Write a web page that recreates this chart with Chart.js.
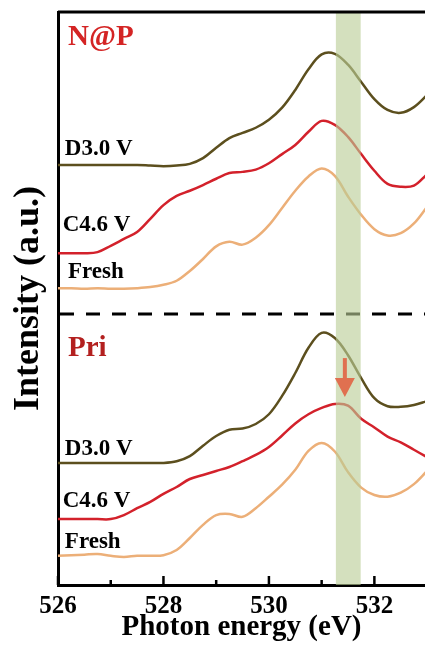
<!DOCTYPE html>
<html>
<head>
<meta charset="utf-8">
<script src="https://cdn.jsdelivr.net/npm/chart.js@4.4.0/dist/chart.umd.min.js"></script>
<style>
  html, body { margin: 0; padding: 0; background: #fff; }
  .chart-container { width: 425px; height: 650px; }
</style>
</head>
<body>
<div class="chart-container"><canvas id="xasChart"></canvas></div>
<script>
// photon energy grid (eV)
const energy = [526.00, 526.25, 526.50, 526.75, 527.00, 527.25, 527.50, 527.75, 528.00, 528.25,
                528.50, 528.75, 529.00, 529.25, 529.50, 529.75, 530.00, 530.25, 530.50, 530.75,
                531.00, 531.25, 531.50, 531.75, 532.00, 532.25, 532.50, 532.75, 533.00];

// N@P spectra (stacked, a.u.)
const napD30   = [73.3, 73.3, 73.3, 73.3, 73.3, 73.3, 73.3, 73.2, 73.1, 73.2,
                  73.5, 74.5, 76.3, 78.0, 78.9, 79.8, 81.2, 83.3, 86.4, 90.0,
                  92.6, 92.7, 90.8, 87.8, 84.8, 82.9, 82.4, 83.4, 85.5];
const napC46   = [57.9, 57.9, 57.9, 58.1, 59.2, 60.4, 61.6, 63.9, 66.3, 67.9,
                  68.8, 69.8, 70.9, 71.9, 72.1, 72.5, 73.6, 75.2, 76.8, 79.1,
                  81.0, 80.3, 78.2, 75.2, 72.3, 70.0, 69.5, 69.7, 71.7];
const napFresh = [51.8, 51.8, 51.7, 51.8, 51.7, 51.7, 51.8, 52.0, 52.4, 53.1,
                  54.8, 56.9, 59.1, 59.9, 59.4, 60.6, 62.8, 65.8, 68.8, 71.3,
                  72.7, 71.4, 67.8, 64.6, 62.1, 61.0, 61.4, 63.1, 66.0];

// Pri spectra (stacked, a.u.)
const priD30   = [21.3, 21.3, 21.3, 21.3, 21.3, 21.3, 21.3, 21.3, 21.3, 21.6,
                  22.5, 24.3, 26.0, 27.1, 27.3, 28.1, 29.8, 33.0, 37.0, 41.4,
                  44.0, 43.1, 40.1, 36.1, 32.6, 31.2, 31.1, 31.4, 32.1];
const priC46   = [11.5, 11.5, 11.5, 11.5, 11.5, 12.2, 13.4, 14.5, 15.9, 17.1,
                  18.5, 19.2, 19.9, 20.6, 21.6, 22.7, 24.1, 26.1, 28.2, 29.8,
                  30.9, 31.6, 31.3, 29.0, 27.5, 25.9, 24.9, 23.6, 22.3];
const priFresh = [5.1, 5.2, 5.3, 5.4, 5.1, 4.9, 5.1, 5.1, 5.2, 6.1,
                  8.2, 10.5, 12.2, 12.4, 11.9, 13.4, 15.4, 17.5, 20.1, 23.4,
                  24.8, 23.3, 19.7, 17.0, 15.7, 15.4, 16.1, 17.6, 19.9];

const xTicks = [526, 528, 530, 532];
const xMinorTicks = [527, 529, 531];
const bandRange = [531.27, 531.74];
const dividerLevel = 47.3;
const arrowEnergy = 531.44;
const arrowRange = [39.6, 32.8];

const panelNames = ["N@P", "Pri"];
const curveNames = ["D3.0 V", "C4.6 V", "Fresh"];

const SERIF = '"Liberation Serif", "Times New Roman", serif';

function makeDataSet(values, label, color) {
  return {
    label: label,
    data: energy.map((e, i) => ({ x: e, y: values[i] })),
    borderColor: color,
    borderWidth: 2.5,
    pointRadius: 0,
    tension: 0.35,
    fill: false
  };
}

function drawText(ctx, text, px, py, size, color) {
  ctx.font = `bold ${size}px ${SERIF}`;
  ctx.fillStyle = color;
  ctx.textAlign = "left";
  ctx.textBaseline = "alphabetic";
  ctx.fillText(text, px, py);
}

const decorations = {
  id: "decorations",
  afterDatasetsDraw(chart) {
    let ctx = chart.ctx;
    let area = chart.chartArea;
    let xs = chart.scales.x;
    let ys = chart.scales.y;
    ctx.save();

    // dashed line splitting the two panels
    let dy = ys.getPixelForValue(dividerLevel);
    ctx.strokeStyle = "#000";
    ctx.lineWidth = 3;
    ctx.setLineDash([14, 12]);
    ctx.beginPath();
    ctx.moveTo(area.left + 2, dy);
    ctx.lineTo(area.right, dy);
    ctx.stroke();
    ctx.setLineDash([]);

    // highlighted energy window
    let b0 = xs.getPixelForValue(bandRange[0]);
    let b1 = xs.getPixelForValue(bandRange[1]);
    ctx.fillStyle = "rgba(185, 205, 150, 0.62)";
    ctx.fillRect(b0, area.top + 1, b1 - b0, area.bottom - area.top - 1);

    // top frame
    ctx.strokeStyle = "#000";
    ctx.lineWidth = 3;
    ctx.beginPath();
    ctx.moveTo(area.left, area.top);
    ctx.lineTo(area.right, area.top);
    ctx.stroke();

    // inward ticks on the energy axis
    ctx.lineWidth = 2.5;
    xTicks.forEach(v => {
      let px = xs.getPixelForValue(v);
      ctx.beginPath();
      ctx.moveTo(px, area.bottom);
      ctx.lineTo(px, area.bottom - 9);
      ctx.stroke();
    });
    xMinorTicks.forEach(v => {
      let px = xs.getPixelForValue(v);
      ctx.beginPath();
      ctx.moveTo(px, area.bottom);
      ctx.lineTo(px, area.bottom - 5);
      ctx.stroke();
    });

    // arrow over the Pri C4.6 V peak
    let ax = xs.getPixelForValue(arrowEnergy);
    let ay0 = ys.getPixelForValue(arrowRange[0]);
    let ay1 = ys.getPixelForValue(arrowRange[1]);
    ctx.strokeStyle = "#e07050";
    ctx.fillStyle = "#e07050";
    ctx.lineWidth = 4;
    ctx.beginPath();
    ctx.moveTo(ax, ay0);
    ctx.lineTo(ax, ay1 - 14);
    ctx.stroke();
    ctx.beginPath();
    ctx.moveTo(ax - 10, ay1 - 19);
    ctx.lineTo(ax + 10, ay1 - 19);
    ctx.lineTo(ax, ay1);
    ctx.closePath();
    ctx.fill();

    // panel and curve labels
    drawText(ctx, panelNames[0], xs.getPixelForValue(526.19), ys.getPixelForValue(94.2), 29, "#d42424");
    drawText(ctx, curveNames[0], xs.getPixelForValue(526.13), ys.getPixelForValue(75.0), 23, "#000");
    drawText(ctx, curveNames[1], xs.getPixelForValue(526.09), ys.getPixelForValue(61.8), 23, "#000");
    drawText(ctx, curveNames[2], xs.getPixelForValue(526.19), ys.getPixelForValue(53.6), 23, "#000");

    drawText(ctx, panelNames[1], xs.getPixelForValue(526.19), ys.getPixelForValue(40.0), 29, "#b3201f");
    drawText(ctx, curveNames[0], xs.getPixelForValue(526.13), ys.getPixelForValue(22.7), 23, "#000");
    drawText(ctx, curveNames[1], xs.getPixelForValue(526.09), ys.getPixelForValue(13.6), 23, "#000");
    drawText(ctx, curveNames[2], xs.getPixelForValue(526.13), ys.getPixelForValue(6.5), 23, "#000");

    ctx.restore();
  }
};

const dataSets = [
  makeDataSet(napD30, "N@P D3.0 V", "#5c4f1e"),
  makeDataSet(napC46, "N@P C4.6 V", "#d3212b"),
  makeDataSet(napFresh, "N@P Fresh", "#ecaf78"),
  makeDataSet(priD30, "Pri D3.0 V", "#5c4f1e"),
  makeDataSet(priC46, "Pri C4.6 V", "#d3212b"),
  makeDataSet(priFresh, "Pri Fresh", "#ecaf78")
];

new Chart(document.getElementById("xasChart"), {
  type: "line",
  data: { datasets: dataSets },
  plugins: [decorations],
  options: {
    responsive: true,
    maintainAspectRatio: false,
    animation: false,
    layout: { padding: { top: 12, left: 0, right: 0, bottom: 0 } },
    plugins: { legend: { display: false }, tooltip: { enabled: false } },
    scales: {
      x: {
        type: "linear",
        min: 526,
        max: 532.96,
        afterFit(scale) { scale.height = 65; },
        afterBuildTicks(scale) { scale.ticks = xTicks.map(v => ({ value: v })); },
        grid: { display: false, drawTicks: false },
        border: { display: true, color: "#000", width: 3 },
        ticks: {
          padding: 7,
          color: "#000",
          maxRotation: 0,
          font: { family: SERIF, size: 25, weight: "bold" }
        },
        title: {
          display: true,
          text: "Photon energy (eV)",
          color: "#000",
          padding: { top: 0, bottom: 5 },
          font: { family: SERIF, size: 29, weight: "bold" }
        }
      },
      y: {
        type: "linear",
        min: 0,
        max: 100,
        afterFit(scale) { scale.width = 58; },
        grid: { display: false, drawTicks: false },
        border: { display: true, color: "#000", width: 3 },
        ticks: { display: false },
        title: {
          display: true,
          text: "Intensity (a.u.)",
          color: "#000",
          padding: { top: 7, bottom: 0 },
          font: { family: SERIF, size: 36, weight: "bold" }
        }
      }
    }
  }
});
</script>
</body>
</html>
